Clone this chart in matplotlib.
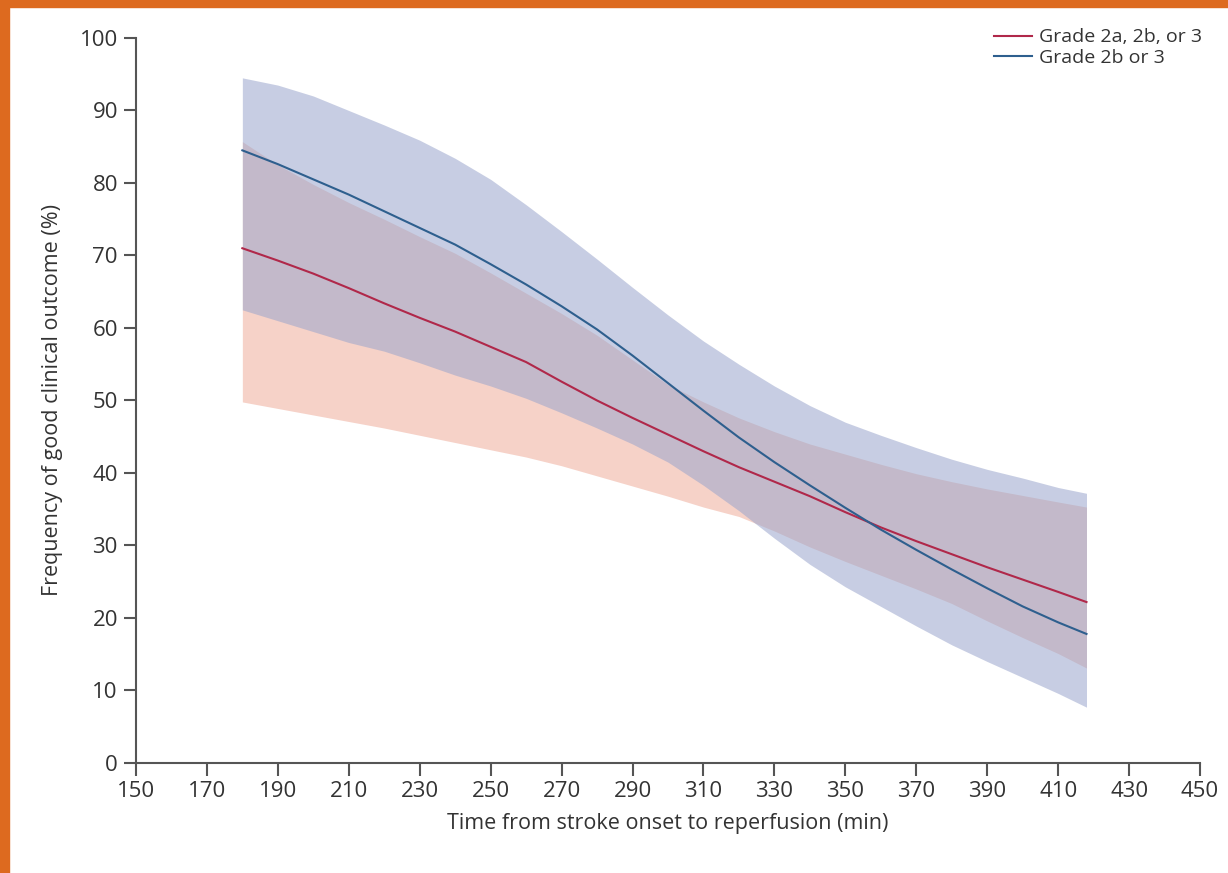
import numpy as np
import matplotlib.pyplot as plt
from matplotlib.patches import Rectangle

# minuty od zachorowania do reperfuzji
czas = [180, 190, 200, 210, 220, 230, 240, 250, 260, 270, 280, 290, 300,
        310, 320, 330, 340, 350, 360, 370, 380, 390, 400, 410, 418]

# Grade 2a, 2b, or 3
srednia_a = [71.0, 69.3, 67.5, 65.5, 63.4, 61.4, 59.5, 57.4, 55.3, 52.6, 50.0, 47.6, 45.3,
             43.0, 40.8, 38.8, 36.8, 34.6, 32.5, 30.6, 28.8, 27.0, 25.3, 23.6, 22.2]
gora_a = [85.7, 82.5, 79.8, 77.3, 75.0, 72.6, 70.3, 67.6, 64.8, 62.0, 59.0, 55.6, 52.2,
          49.8, 47.6, 45.7, 44.0, 42.6, 41.2, 39.9, 38.8, 37.8, 36.9, 36.0, 35.3]
dol_a = [49.8, 48.9, 48.0, 47.1, 46.2, 45.2, 44.2, 43.2, 42.2, 41.0, 39.6, 38.2, 36.8,
         35.3, 34.0, 32.0, 29.8, 27.8, 25.9, 24.0, 22.0, 19.6, 17.3, 15.1, 13.1]

# Grade 2b or 3
srednia_b = [84.5, 82.6, 80.5, 78.4, 76.1, 73.8, 71.5, 68.8, 66.0, 63.0, 59.8, 56.2, 52.4,
             48.6, 44.9, 41.5, 38.3, 35.2, 32.2, 29.4, 26.7, 24.1, 21.6, 19.4, 17.8]
gora_b = [94.5, 93.5, 92.0, 90.0, 88.0, 85.9, 83.4, 80.5, 77.0, 73.3, 69.5, 65.6, 61.8,
          58.2, 55.0, 52.0, 49.3, 47.0, 45.2, 43.5, 41.9, 40.5, 39.3, 38.0, 37.2]
dol_b = [62.5, 61.0, 59.5, 58.0, 56.8, 55.2, 53.5, 52.0, 50.3, 48.3, 46.2, 44.0, 41.5,
         38.3, 34.8, 31.0, 27.4, 24.3, 21.6, 18.9, 16.3, 14.0, 11.8, 9.6, 7.7]

etykiety = ["Grade 2a, 2b, or 3", "Grade 2b or 3"]

plt.rcParams['font.family'] = ['Open Sans', 'DejaVu Sans']
szary = '#333333'

fig = plt.figure(figsize=(12.28, 8.73), dpi=100)
ax = fig.add_axes([0.1107, 0.126, 0.8665, 0.8305])

# pasma ufnosci
ax.fill_between(czas, dol_a, gora_a, color='#f0b4a4', alpha=0.6, linewidth=0)
ax.fill_between(czas, dol_b, gora_b, color='#9aa5cc', alpha=0.55, linewidth=0)

# linie
ax.plot(czas, srednia_a, color='#b0284a', linewidth=1.5, label=etykiety[0])
ax.plot(czas, srednia_b, color='#2e5f8e', linewidth=1.5, label=etykiety[1])

ax.set_xlim(150, 450)
ax.set_ylim(0, 100)
ax.set_xticks(range(150, 451, 20))
ax.set_yticks(range(0, 101, 10))

for s in ['top', 'right']:
    ax.spines[s].set_visible(False)
for s in ['left', 'bottom']:
    ax.spines[s].set_color('#555555')
    ax.spines[s].set_linewidth(1.5)
ax.tick_params(length=9, width=1.5, color='#555555', labelsize=16,
               labelcolor=szary, pad=4)

ax.set_xlabel("Time from stroke onset to reperfusion (min)", fontsize=15.5,
              color=szary, labelpad=8)
ax.set_ylabel("Frequency of good clinical outcome (%)", fontsize=15.5,
              color=szary, labelpad=12)

leg = ax.legend(loc='upper right', bbox_to_anchor=(1.0094, 1.024), frameon=False,
                fontsize=14, handlelength=2.0, handletextpad=0.35,
                labelspacing=0.15, borderaxespad=0)
for t in leg.get_texts():
    t.set_color(szary)

# pomaranczowa ramka
fig.patches.append(Rectangle((0, 0), 9 / 1228, 1, transform=fig.transFigure,
                             color='#dd6a1f', zorder=10))
fig.patches.append(Rectangle((0, 1 - 7 / 873), 1, 7 / 873, transform=fig.transFigure,
                             color='#dd6a1f', zorder=10))

fig.savefig('out.png', dpi=100)
